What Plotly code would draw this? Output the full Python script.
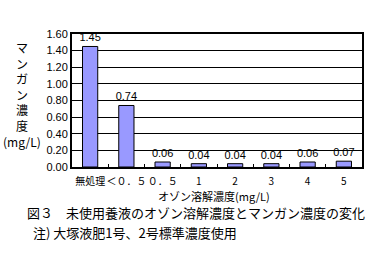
import plotly.graph_objects as go

categories = ["無処理", "＜０．５", "０．５", "1", "2", "3", "4", "5"]
values = [1.45, 0.74, 0.06, 0.04, 0.04, 0.04, 0.06, 0.07]
labels = ["1.45", "0.74", "0.06", "0.04", "0.04", "0.04", "0.06", "0.07"]
tick_vals = [0, 0.2, 0.4, 0.6, 0.8, 1.0, 1.2, 1.4, 1.6]
tick_text = ["0.00", "0.20", "0.40", "0.60", "0.80", "1.00", "1.20", "1.40", "1.60"]

W, H = 376, 256
L, R, T, B = 72, 12, 34, 89
pw, ph = W - L - R, H - T - B

def px(x):
    return (x - L) / pw

def py(y):
    return (H - B - y) / ph

jp = "Noto Sans CJK JP"

fig = go.Figure()
fig.add_trace(go.Bar(
    x=categories, y=values, text=labels, textposition="outside",
    textfont=dict(family="Liberation Sans", size=11, color="black"),
    constraintext="none",
    marker=dict(color="#9999FF", line=dict(color="black", width=1)),
    width=0.42, cliponaxis=False,
))

fig.update_layout(
    width=W, height=H, margin=dict(l=L, r=R, t=T, b=B),
    paper_bgcolor="white", plot_bgcolor="white", showlegend=False,
    xaxis=dict(
        type="category", showline=True, linecolor="black", linewidth=2, mirror=True,
        ticks="inside", tickson="boundaries", ticklen=3, tickcolor="black",
        tickangle=0,
        tickfont=dict(family=jp, size=10, color="black"), ticklabelstandoff=4,
    ),
    yaxis=dict(
        range=[0, 1.6], tickvals=tick_vals, ticktext=tick_text,
        showgrid=True, gridcolor="black", gridwidth=1,
        showline=True, linecolor="black", linewidth=2, mirror=True,
        ticks="outside", ticklen=0, zeroline=False,
        tickfont=dict(family="Liberation Sans", size=11, color="black"),
    ),
    annotations=[
        dict(text="マ<br>ン<br>ガ<br>ン<br>濃<br>度<br>(mg/L)", xref="paper", yref="paper",
             x=px(22), y=py(94), showarrow=False, xanchor="center", yanchor="middle",
             font=dict(family=jp, size=12, color="black")),
        dict(text="オゾン溶解濃度(mg/L)", xref="paper", yref="paper",
             x=px(215), y=py(196), showarrow=False, xanchor="center", yanchor="middle",
             font=dict(family=jp, size=11, color="black")),
        dict(text="図３　未使用養液のオゾン溶解濃度とマンガン濃度の変化", xref="paper", yref="paper",
             x=px(25), y=py(213), showarrow=False, xanchor="left", yanchor="middle",
             font=dict(family=jp, size=13, color="black")),
        dict(text="注) 大塚液肥1号、2号標準濃度使用", xref="paper", yref="paper",
             x=px(31), y=py(232), showarrow=False, xanchor="left", yanchor="middle",
             font=dict(family=jp, size=13, color="black")),
    ],
)

fig.write_html("out.html")
